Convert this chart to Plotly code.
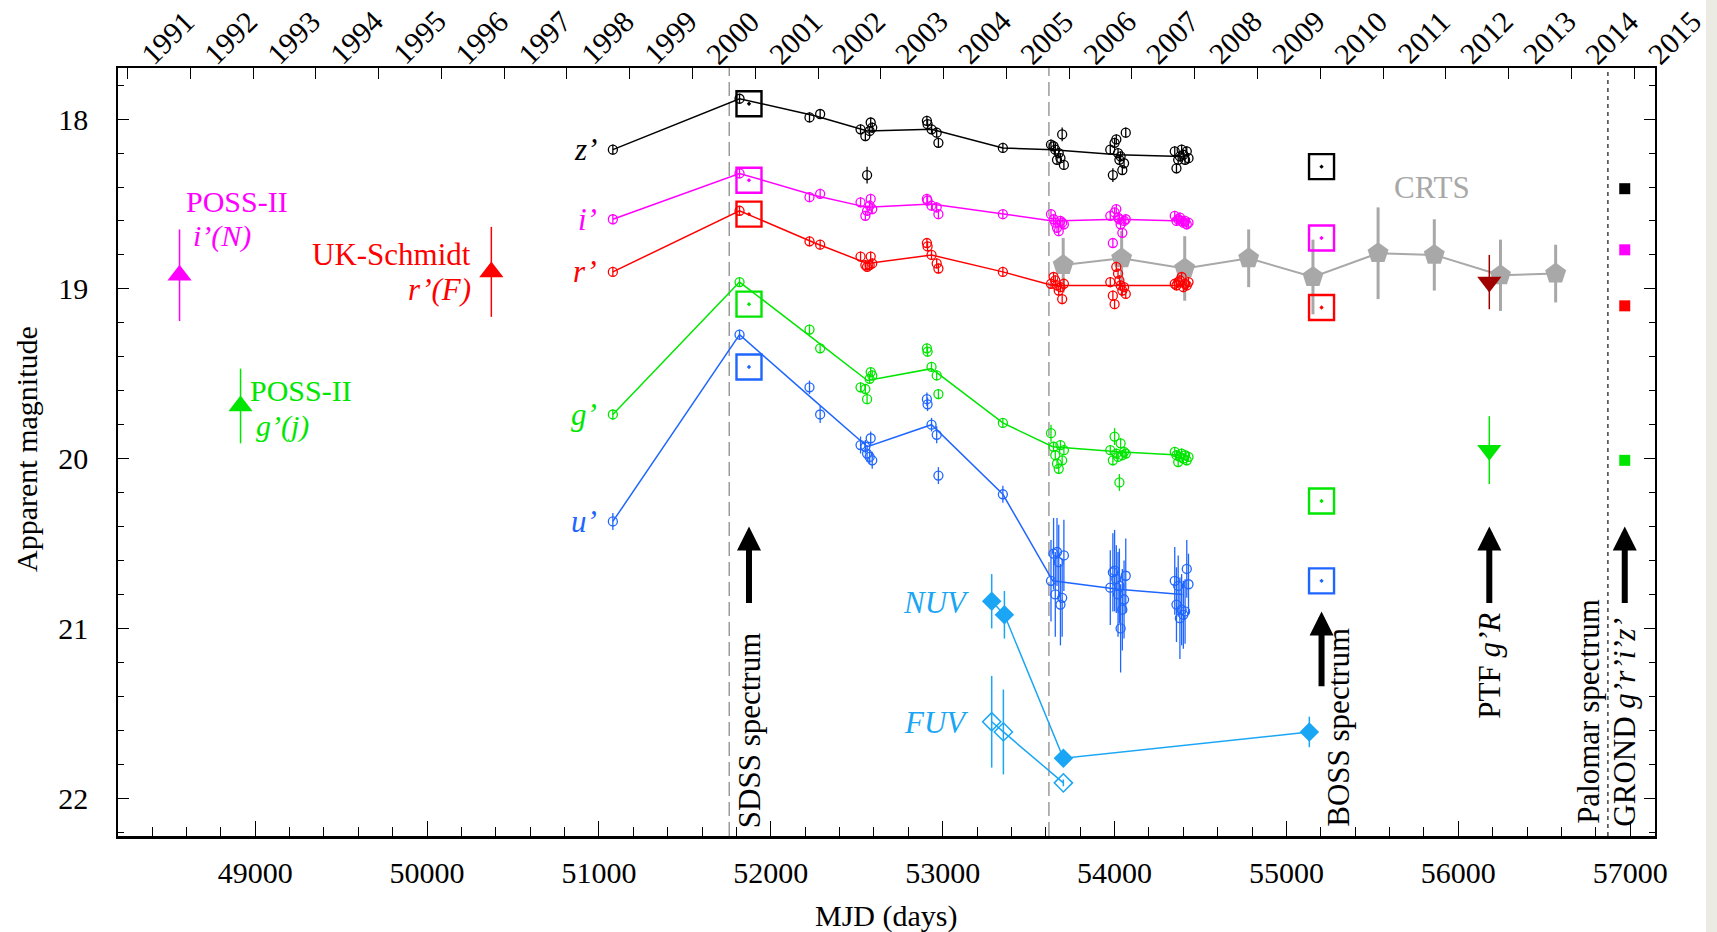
import datetime
import plotly.graph_objects as go

# ---------------- SDSS ugriz photometry (Stripe 82 + single epochs) ----------------
sdss_mjd = [51081,
            51818,
            52225, 52287,
            52522, 52550, 52560, 52575, 52581, 52590,
            52908, 52912, 52935, 52965, 52975,
            53350,
            53630, 53645, 53655, 53665, 53675, 53685, 53695, 53705,
            53975, 53990, 54000, 54010, 54020, 54028, 54035, 54045, 54055, 54065,
            54350, 54360, 54370, 54380, 54390, 54400, 54410, 54420, 54430]

z_mag = [18.18,
         17.88,
         17.99, 17.97,
         18.06, 18.10, 18.33, 18.07, 18.02, 18.05,
         18.01, 18.03, 18.06, 18.08, 18.14,
         18.17,
         18.15, 18.16, 18.18, 18.24, 18.20, 18.23, 18.09, 18.27,
         18.18, 18.33, 18.14, 18.12, 18.20, 18.24, 18.22, 18.30, 18.26, 18.08,
         18.19, 18.29, 18.24, 18.22, 18.18, 18.21, 18.24, 18.19, 18.23]
z_err = [0.03, 0.03, 0.03, 0.03, 0.03, 0.03, 0.05, 0.03, 0.03, 0.03,
         0.03, 0.03, 0.03, 0.03, 0.03, 0.03,
         0.03, 0.03, 0.03, 0.03, 0.03, 0.03, 0.04, 0.03,
         0.03, 0.04, 0.03, 0.03, 0.03, 0.03, 0.03, 0.03, 0.03, 0.03,
         0.03, 0.03, 0.03, 0.03, 0.03, 0.03, 0.03, 0.03, 0.03]

i_mag = [18.59,
         18.32,
         18.46, 18.44,
         18.49, 18.57, 18.54, 18.51, 18.47, 18.53,
         18.47, 18.48, 18.51, 18.52, 18.56,
         18.56,
         18.56, 18.59, 18.61, 18.64, 18.66, 18.60, 18.61, 18.62,
         18.57, 18.73, 18.55, 18.53, 18.58, 18.59, 18.62, 18.67, 18.60, 18.59,
         18.57, 18.60, 18.59, 18.58, 18.60, 18.61, 18.60, 18.62, 18.61]
i_err = [0.03, 0.03, 0.03, 0.03, 0.03, 0.03, 0.03, 0.03, 0.03, 0.03,
         0.03, 0.03, 0.03, 0.03, 0.03, 0.03,
         0.03, 0.03, 0.03, 0.03, 0.03, 0.03, 0.03, 0.03,
         0.03, 0.03, 0.03, 0.03, 0.03, 0.03, 0.03, 0.03, 0.03, 0.03,
         0.03, 0.03, 0.03, 0.03, 0.03, 0.03, 0.03, 0.03, 0.03]

r_mag = [18.90,
         18.54,
         18.72, 18.74,
         18.81, 18.86, 18.87, 18.86, 18.81, 18.85,
         18.73, 18.75, 18.80, 18.85, 18.88,
         18.90,
         18.97, 18.93, 18.95, 18.98, 19.01, 18.99, 19.06, 18.97,
         18.96, 19.04, 19.09, 18.87, 18.91, 18.95, 18.98, 19.01, 18.99, 19.03,
         18.97, 18.98, 18.96, 18.95, 18.93, 18.99, 18.97, 18.98, 18.96]
r_err = [0.03, 0.03, 0.03, 0.03, 0.03, 0.03, 0.03, 0.03, 0.03, 0.03,
         0.03, 0.03, 0.03, 0.03, 0.03, 0.03,
         0.03, 0.03, 0.03, 0.03, 0.03, 0.03, 0.03, 0.03,
         0.03, 0.03, 0.03, 0.03, 0.03, 0.03, 0.03, 0.03, 0.03, 0.03,
         0.03, 0.03, 0.03, 0.03, 0.03, 0.03, 0.03, 0.03, 0.03]

g_mag = [19.74,
         18.96,
         19.24, 19.35,
         19.58, 19.59, 19.65, 19.53, 19.49, 19.51,
         19.35, 19.37, 19.46, 19.51, 19.62,
         19.79,
         19.85, 19.93, 19.98, 20.03, 20.06, 19.92, 20.01, 19.95,
         19.95, 20.01, 19.87, 19.97, 19.99, 20.14, 19.91, 19.98, 19.96, 19.97,
         19.96, 19.98, 20.02, 19.99, 19.97, 20.00, 19.98, 20.01, 19.99]
g_err = [0.03, 0.03, 0.03, 0.03, 0.03, 0.03, 0.03, 0.03, 0.03, 0.03,
         0.03, 0.03, 0.03, 0.03, 0.03, 0.03,
         0.05, 0.03, 0.03, 0.03, 0.03, 0.03, 0.03, 0.03,
         0.03, 0.03, 0.05, 0.03, 0.03, 0.05, 0.03, 0.03, 0.03, 0.03,
         0.03, 0.03, 0.03, 0.03, 0.03, 0.03, 0.03, 0.03, 0.03]

u_mag = [20.37,
         19.27,
         19.58, 19.74,
         19.92, 19.93, 19.97, 19.99, 19.88, 20.01,
         19.65, 19.68, 19.80, 19.86, 20.10,
         20.21,
         20.72, 20.56, 20.80, 20.55, 20.61, 20.86, 20.82, 20.57,
         20.76, 20.67, 20.66, 20.71, 20.80, 20.75, 21.00, 20.89, 20.83, 20.69,
         20.72, 20.86, 20.75, 20.94, 20.89, 20.92, 20.90, 20.65, 20.74]
u_err = [0.05, 0.03, 0.04, 0.05, 0.05, 0.04, 0.05, 0.04, 0.04, 0.05,
         0.04, 0.04, 0.04, 0.05, 0.05, 0.05,
         0.24, 0.21, 0.25, 0.20, 0.22, 0.24, 0.23, 0.21,
         0.22, 0.23, 0.24, 0.20, 0.25, 0.22, 0.26, 0.24, 0.23, 0.22,
         0.20, 0.22, 0.18, 0.24, 0.21, 0.20, 0.19, 0.17, 0.18]

# seasonal means connected by lines
season_mjd = [51081, 51818, 52256, 52562, 52935, 53350, 53640, 54020, 54395]
z_line = [18.18, 17.88, 17.98, 18.07, 18.06, 18.17, 18.18, 18.21, 18.22]
i_line = [18.59, 18.32, 18.45, 18.52, 18.50, 18.56, 18.60, 18.59, 18.60]
r_line = [18.90, 18.54, 18.73, 18.85, 18.80, 18.90, 18.98, 18.98, 18.98]
g_line = [19.74, 18.96, 19.30, 19.54, 19.47, 19.79, 19.93, 19.96, 19.98]
u_line = [20.37, 19.27, 19.66, 19.93, 19.80, 20.21, 20.72, 20.77, 20.80]

# synthetic photometry from the SDSS and BOSS spectra (z, i, r, g, u)
SDSS_SPEC_MJD = 51873
BOSS_SPEC_MJD = 55204
sdss_spec_mag = [17.91, 18.36, 18.56, 19.09, 19.46]
boss_spec_mag = [18.28, 18.70, 19.11, 20.25, 20.72]

# GROND g'r'i'z' epoch (z, i, r, g)
GROND_MJD = 56968
grond_mag = [18.41, 18.77, 19.10, 20.01]

# PTF epoch
PTF_MJD = 56180
ptf_R_mag, ptf_R_err = 18.96, 0.16
ptf_g_mag, ptf_g_err = 19.95, 0.20

# Palomar spectrum epoch
PALOMAR_MJD = 56870

# CRTS seasonal averages
crts_mjd = [53701, 54041, 54408, 54780, 55154, 55533, 55860, 56245, 56566]
crts_mag = [18.86, 18.82, 18.88, 18.82, 18.93, 18.79, 18.80, 18.92, 18.91]
crts_err = [0.16, 0.16, 0.19, 0.17, 0.22, 0.27, 0.21, 0.21, 0.17]

# GALEX
nuv_mjd = [53285, 53359, 53702, 55133]
nuv_mag = [20.84, 20.92, 21.765, 21.61]
nuv_err = [0.16, 0.14, 0.02, 0.09]
fuv_mjd = [53285, 53353, 53702]
fuv_mag = [21.55, 21.61, 21.91]
fuv_err = [0.27, 0.25, 0.02]

# photographic plates
poss_i_mjd, poss_i_mag, poss_i_err = 48560, 18.92, 0.27
poss_g_mjd, poss_g_mag, poss_g_err = 48915, 19.69, 0.22
ukst_r_mjd, ukst_r_mag, ukst_r_err = 50374, 18.90, 0.265

# other reference epochs marked by dashed lines
epoch_lines = [51758, 53618]

years = list(range(1991, 2016))
mjd_ticks = [49000, 50000, 51000, 52000, 53000, 54000, 55000, 56000, 57000]
mag_ticks = [18, 19, 20, 21, 22]

# ---------------- styling ----------------
FONT = "Liberation Serif, Times New Roman, serif"
C_Z, C_I, C_R, C_G, C_U = "#000000", "#FF00FF", "#FF0000", "#00E600", "#1F66FF"
C_UV = "#1AA6F5"
C_CRTS = "#A8A8A8"
C_PTF = "#A00000"

fig = go.Figure()

# CRTS (drawn first so SDSS points sit on top)
fig.add_trace(go.Scatter(
    x=crts_mjd, y=crts_mag, mode="lines+markers",
    line=dict(color=C_CRTS, width=2),
    marker=dict(symbol="pentagon", size=22, color=C_CRTS),
    error_y=dict(type="data", array=crts_err, color=C_CRTS, thickness=3, width=0)))

bands = [
    (z_mag, z_err, z_line, C_Z),
    (i_mag, i_err, i_line, C_I),
    (r_mag, r_err, r_line, C_R),
    (g_mag, g_err, g_line, C_G),
    (u_mag, u_err, u_line, C_U),
]
for mags, errs, line_vals, col in bands:
    fig.add_trace(go.Scatter(
        x=season_mjd, y=line_vals, mode="lines",
        line=dict(color=col, width=1.5), hoverinfo="skip"))
    fig.add_trace(go.Scatter(
        x=sdss_mjd, y=mags, mode="markers",
        marker=dict(symbol="circle-open", size=9, color=col, line=dict(width=1.3, color=col)),
        error_y=dict(type="data", array=errs, color=col, thickness=1.3, width=0)))

# spectrum synthetic photometry boxes
band_cols = [C_Z, C_I, C_R, C_G, C_U]
for epoch, mags in [(SDSS_SPEC_MJD, sdss_spec_mag), (BOSS_SPEC_MJD, boss_spec_mag)]:
    fig.add_trace(go.Scatter(
        x=[epoch] * len(mags), y=mags, mode="markers",
        marker=dict(symbol="square-open-dot", size=25, color=band_cols,
                    line=dict(width=2.4, color=band_cols))))

# GROND
fig.add_trace(go.Scatter(
    x=[GROND_MJD] * len(grond_mag), y=grond_mag, mode="markers",
    marker=dict(symbol="square", size=11, color=band_cols[:4])))

# PTF
fig.add_trace(go.Scatter(
    x=[PTF_MJD], y=[ptf_g_mag], mode="markers",
    marker=dict(symbol="triangle-down", size=21, color=C_G),
    error_y=dict(type="data", array=[ptf_g_err], color=C_G, thickness=1.5, width=0)))
fig.add_trace(go.Scatter(
    x=[PTF_MJD], y=[ptf_R_mag], mode="markers",
    marker=dict(symbol="triangle-down", size=21, color=C_PTF),
    error_y=dict(type="data", array=[ptf_R_err], color=C_PTF, thickness=1.5, width=0)))

# GALEX NUV / FUV
fig.add_trace(go.Scatter(
    x=nuv_mjd, y=nuv_mag, mode="lines+markers",
    line=dict(color=C_UV, width=1.5),
    marker=dict(symbol="diamond", size=15, color=C_UV),
    error_y=dict(type="data", array=nuv_err, color=C_UV, thickness=1.5, width=0)))
fig.add_trace(go.Scatter(
    x=fuv_mjd, y=fuv_mag, mode="lines+markers",
    line=dict(color=C_UV, width=1.5),
    marker=dict(symbol="diamond-open", size=14, color=C_UV, line=dict(width=1.5, color=C_UV)),
    error_y=dict(type="data", array=fuv_err, color=C_UV, thickness=1.5, width=0)))

# photographic plates
for mjd, mag, err, col in [(poss_i_mjd, poss_i_mag, poss_i_err, C_I),
                           (poss_g_mjd, poss_g_mag, poss_g_err, C_G),
                           (ukst_r_mjd, ukst_r_mag, ukst_r_err, C_R)]:
    fig.add_trace(go.Scatter(
        x=[mjd], y=[mag], mode="markers",
        marker=dict(symbol="triangle-up", size=21, color=col),
        error_y=dict(type="data", array=[err], color=col, thickness=1.5, width=0)))

# ---------------- shapes ----------------
shapes = []
for m in epoch_lines:
    shapes.append(dict(type="line", xref="x", yref="paper", x0=m, x1=m, y0=0, y1=1,
                       layer="below", line=dict(color="#8C8C8C", width=1.3, dash="14px,6px")))
shapes.append(dict(type="line", xref="x", yref="paper", x0=PALOMAR_MJD, x1=PALOMAR_MJD,
                   y0=0, y1=1, layer="below", line=dict(color="#333333", width=1.4, dash="4px,4px")))
shapes.append(dict(type="rect", xref="paper", yref="paper", x0=1.0332, x1=1.05, y0=-0.2, y1=1.2,
                   fillcolor="#EBEBE4", line=dict(width=0), layer="below"))

# ---------------- annotations ----------------
ann = []


def label(x, y, text, col, size=31, **kw):
    d = dict(x=x, y=y, xref="x", yref="y", text=text, showarrow=False,
             xanchor="center", yanchor="middle",
             font=dict(family=FONT, size=size, color=col))
    d.update(kw)
    ann.append(d)


# band names beside the first epoch
for name, mags, col in [("z’", z_mag, C_Z), ("i’", i_mag, C_I), ("r’", r_mag, C_R),
                        ("g’", g_mag, C_G), ("u’", u_mag, C_U)]:
    label(sdss_mjd[0], mags[0], "<i>%s</i>" % name, col, xanchor="right", xshift=-14)

label(48892, 18.485, "POSS-II", C_I, size=30)
label(48809, 18.69, "<i>i’(N)</i>", C_I, size=30)
label(50395, 18.80, "UK-Schmidt", C_R, xanchor="right", xshift=-22)
label(50395, 19.005, "<i>r’(F)</i>", C_R, xanchor="right", xshift=-22)
label(49268, 19.60, "POSS-II", C_G, size=30)
label(49159, 19.81, "<i>g’(j)</i>", C_G, size=30)
label(55847, 18.40, "CRTS", "#A8A8A8")
label(52962, 20.85, "<i>NUV</i>", C_UV)
label(52962, 21.555, "<i>FUV</i>", C_UV)

# spectra / epochs, rotated
label(SDSS_SPEC_MJD, 21.60, "SDSS spectrum", "black", textangle=-90)
label(55305, 21.58, "BOSS spectrum", "black", textangle=-90)
label(56184, 21.22, "PTF <i>g’R</i>", "black", textangle=-90)
label(56756, 21.49, "Palomar spectrum", "black", textangle=-90)
label(56969, 21.55, "GROND <i>g’r’i’z’</i>", "black", textangle=-90)

# upward arrows
for mjd, head, tail in [(SDSS_SPEC_MJD, 20.40, 20.86), (BOSS_SPEC_MJD, 20.90, 21.35),
                        (PTF_MJD, 20.40, 20.86), (GROND_MJD, 20.40, 20.86)]:
    ann.append(dict(x=mjd, y=head, ax=mjd, ay=tail, xref="x", yref="y", axref="x", ayref="y",
                    text="", showarrow=True, arrowhead=2, arrowsize=0.8, arrowwidth=6,
                    arrowcolor="black", standoff=0))

# calendar years along the top
mjd0 = datetime.date(1858, 11, 17)
year_mjd = [(datetime.date(y, 1, 1) - mjd0).days for y in years]
for y, m in zip(years, year_mjd):
    ann.append(dict(x=m, y=1, xref="x", yref="paper", xshift=40, yshift=31,
                    xanchor="center", yanchor="middle",
                    text=str(y), textangle=-45, showarrow=False,
                    font=dict(family=FONT, size=30, color="black")))

# axis titles
ann.append(dict(x=0.5, y=-0.104, xref="paper", yref="paper", text="MJD (days)",
                xanchor="center", yanchor="middle",
                showarrow=False, font=dict(family=FONT, size=30, color="black")))
ann.append(dict(x=-0.0592, y=0.504, xref="paper", yref="paper", text="Apparent magnitude",
                xanchor="center", yanchor="middle",
                textangle=-90, showarrow=False, font=dict(family=FONT, size=30, color="black")))

XR = [48202, 57144]
fig.update_layout(
    width=1717, height=932,
    margin=dict(l=118, r=62, t=68, b=96),
    paper_bgcolor="white", plot_bgcolor="white",
    showlegend=False,
    font=dict(family=FONT, size=29, color="black"),
    shapes=shapes, annotations=ann,
    xaxis=dict(range=XR, tickvals=mjd_ticks, ticktext=[str(t) for t in mjd_ticks],
               ticks="inside", ticklen=15, tickwidth=1.4, tickcolor="black",
               minor=dict(dtick=200, tick0=49000, ticks="inside", ticklen=9, tickwidth=1.2,
                          tickcolor="black"),
               showgrid=False, zeroline=False, showline=True, linecolor="black", linewidth=2.5,
               tickfont=dict(family=FONT, size=30), ticklabelstandoff=8),
    xaxis2=dict(range=XR, overlaying="x", side="top", tickvals=year_mjd,
                showticklabels=False, ticks="inside", ticklen=11, tickwidth=1.4,
                tickcolor="black", showgrid=False, zeroline=False, showline=True,
                linecolor="black", linewidth=1.5),
    yaxis=dict(range=[22.223, 17.699], tickvals=mag_ticks, ticktext=[str(t) for t in mag_ticks],
               ticks="inside", ticklen=11, tickwidth=1.4, tickcolor="black",
               minor=dict(dtick=0.2, tick0=18, ticks="inside", ticklen=6, tickwidth=1.2,
                          tickcolor="black"),
               mirror="ticks", showgrid=False, zeroline=False, showline=True,
               linecolor="black", linewidth=1.5,
               tickfont=dict(family=FONT, size=30), ticklabelstandoff=22),
)
# an invisible trace so the top axis is drawn
fig.add_trace(go.Scatter(x=[XR[0]], y=[18], xaxis="x2", mode="markers",
                         marker=dict(opacity=0), hoverinfo="skip"))

fig.write_html("out.html")
